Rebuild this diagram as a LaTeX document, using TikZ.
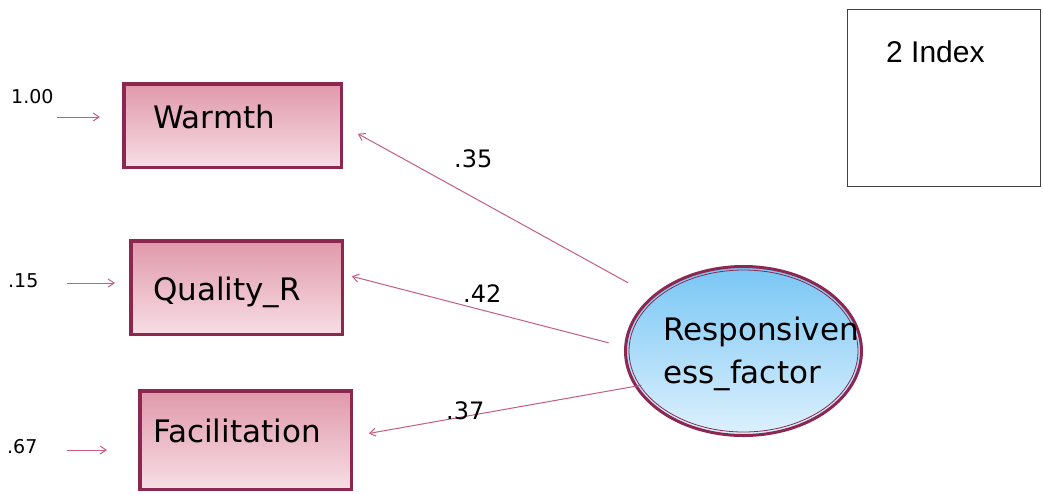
\documentclass[tikz,border=0pt]{standalone}
\usepackage{fontspec}
\setmainfont{DejaVu Sans}
\newfontfamily\idxfont{Liberation Sans}
\usetikzlibrary{arrows.meta,shapes.geometric}

\definecolor{maroon}{RGB}{140,40,80}
\definecolor{pathpink}{RGB}{196,92,132}
\definecolor{pinktop}{RGB}{224,152,170}
\definecolor{pinkbot}{RGB}{247,222,229}
\definecolor{bluetop}{RGB}{120,198,245}
\definecolor{bluebot}{RGB}{222,241,253}

\tikzset{
    obsbox/.style={rectangle, draw=maroon, line width=3pt, top color=pinktop, bottom color=pinkbot},
    latent/.style={ellipse, draw=maroon, line width=3pt, top color=bluetop, bottom color=bluebot},
    innerline/.style={draw=maroon, line width=0.8pt},
    boxtext/.style={anchor=base west, inner sep=0pt, font=\fontsize{31}{43}\selectfont},
    errtext/.style={anchor=base west, inner sep=0pt, font=\fontsize{19}{23}\selectfont},
    coeftext/.style={anchor=base west, inner sep=0pt, font=\fontsize{24}{29}\selectfont},
    pathline/.style={draw=pathpink, line width=1pt, -{Straight Barb[length=6pt,width=8pt]}}
}

\begin{document}
\begin{tikzpicture}[x=1pt, y=-1pt]
    \useasboundingbox (0,0) rectangle (1043,493);
    % Observed variables
    \node[obsbox, minimum width=218pt, minimum height=84pt] (warmth) at (232.5,125.5) {};
    \node[obsbox, minimum width=212pt, minimum height=94pt] (quality) at (236.5,287.5) {};
    \node[obsbox, minimum width=212pt, minimum height=99pt] (facil) at (245.5,440) {};
    \foreach \b in {warmth, quality, facil}
        \draw[innerline] ([shift={(3,3)}]\b.north west) rectangle ([shift={(-3,-3)}]\b.south east);
    \node[boxtext] (warmth-t) at (153,128) {Warmth};
    \node[boxtext] (quality-t) at (153,300) {Quality\_R};
    \node[boxtext] (facil-t) at (153,442) {Facilitation};
    % Latent factor
    \node[latent, minimum width=236pt, minimum height=169pt] (resp) at (743.5,351) {};
    \draw[innerline] (resp.center) ellipse [x radius=114.5pt, y radius=81pt];
    \node[boxtext] (resp-a) at (663,340) {Responsiven};
    \node[boxtext] (resp-b) at (663,383) {ess\_factor};
    % Error terms
    \coordinate (e1) at (57,117);
    \coordinate (e2) at (67,283);
    \coordinate (e3) at (67,450);
    \node[errtext] (err1) at (11,103) {1.00};
    \node[errtext] (err2) at (8,287) {.15};
    \node[errtext] (err3) at (7,453) {.67};
    \draw[pathline, shorten >=22pt] (e1) -- (e1 -| warmth.west);
    \draw[pathline, shorten >=14pt] (e2) -- (e2 -| quality.west);
    \draw[pathline, shorten >=31pt] (e3) -- (e3 -| facil.west);
    % Loadings
    \draw[pathline, shorten <=27pt, shorten >=17pt] (resp.149.5) -- (warmth.east);
    \draw[pathline, shorten <=16pt, shorten >=8pt] (resp.178) -- (quality.7);
    \draw[pathline, shorten <=-7pt, shorten >=16pt] (resp.198.6) -- (facil.2);
    \node[coeftext] (l1) at (454,167) {.35};
    \node[coeftext] (l2) at (463,302) {.42};
    \node[coeftext] (l3) at (446,419) {.37};
    % Index box
    \node[draw=black!75, line width=0.8pt, minimum width=193pt, minimum height=177pt] (index) at (944,98) {};
    \node[anchor=base west, inner sep=0pt, font=\idxfont\fontsize{30}{36}\selectfont] (index-t) at (886,62) {2 Index};
\end{tikzpicture}
\end{document}
